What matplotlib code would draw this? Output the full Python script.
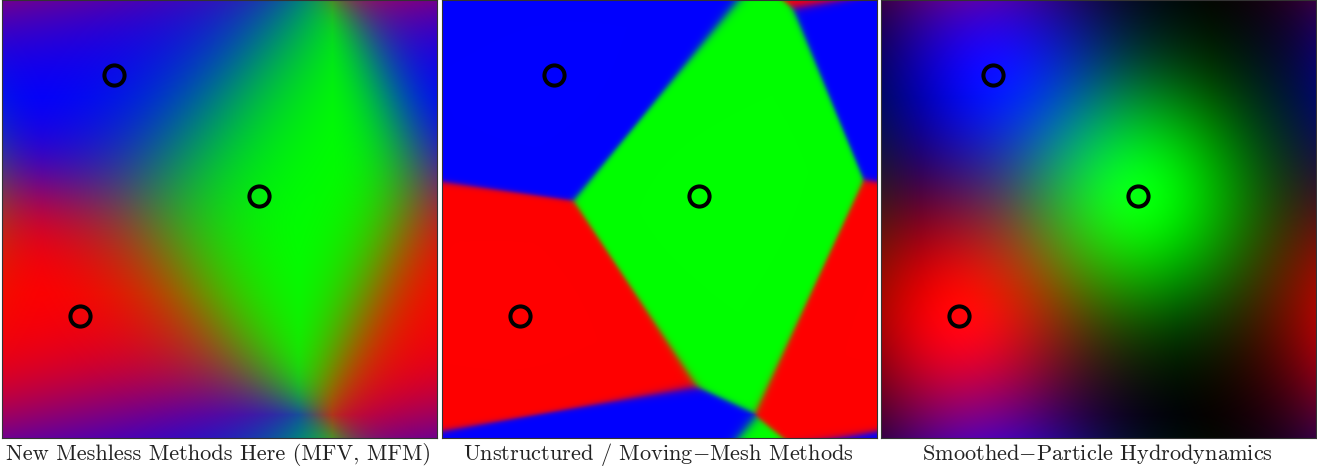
import numpy as np
import matplotlib
matplotlib.use('Agg')
import matplotlib.pyplot as plt

plt.rcParams['mathtext.fontset'] = 'cm'
plt.rcParams['font.family'] = ['cmr10', 'DejaVu Serif']

# particle positions, box units, y measured down from the top
part_x = [0.258, 0.592, 0.180]
part_y = [0.171, 0.447, 0.722]
part_rgb = [[0, 0, 1], [0, 1, 0], [1, 0, 0]]
# kernel radius of each particle in the meshless panel
part_h = [0.63, 0.63, 0.63]
labels = ['New Meshless Methods Here (MFV, MFM)',
          'Unstructured / Moving$-$Mesh Methods',
          'Smoothed$-$Particle Hydrodynamics']

W = 1317.0
H = 472.0
panel_left = [1.5, 441.5, 880.5]
panel_w = 435.5
panel_h = 438
label_x = [218.5, 658.5, 1097.5]
ngrid = 440


def get_dist():
    # distance to the closest periodic image of every particle
    g = (np.arange(ngrid) + 0.5) / ngrid
    xx, yy = np.meshgrid(g, g)
    d = []
    for x0, y0 in zip(part_x, part_y):
        dx = np.abs(xx - x0)
        dy = np.abs(yy - y0)
        dx = np.minimum(dx, 1 - dx)
        dy = np.minimum(dy, 1 - dy)
        d.append(np.sqrt(dx**2 + dy**2))
    return np.array(d)


def kernel(r, h):
    q = r / h
    w = np.where(q < 0.5, 1 - 6*q**2 + 6*q**3, 2*(1 - q)**3)
    return np.where(q < 1, w, 0.0)


def to_image(wt):
    rgb = np.array(part_rgb, dtype=float)
    return np.clip(np.tensordot(wt, rgb, axes=(0, 0)), 0, 1)


dist = get_dist()

# meshless: partition of unity
w1 = np.array([kernel(d, h) for d, h in zip(dist, part_h)]) + 1e-6
img1 = to_image(w1 / w1.sum(axis=0))

# voronoi limit
w2 = np.exp(-(dist - dist.min(axis=0)) / 0.006)
img2 = to_image(w2 / w2.sum(axis=0))

# sph: plain kernel sum, goes dark far from the particles
w3 = np.array([kernel(d, 0.63) for d in dist])
img3 = to_image(w3 * 1.02)

fig = plt.figure(figsize=(W/100, H/100), dpi=100, facecolor='white')
for i, img in enumerate([img1, img2, img3]):
    ax = fig.add_axes([panel_left[i]/W, 1 - panel_h/H, panel_w/W, panel_h/H])
    ax.imshow(img, extent=[0, 1, 1, 0], aspect='auto', interpolation='bilinear')
    ax.plot(part_x, part_y, 'o', ms=14.5, mfc='none', mec='k', mew=2.9)
    ax.set_xlim(0, 1)
    ax.set_ylim(1, 0)
    ax.set_xticks([])
    ax.set_yticks([])
    for s in ax.spines.values():
        s.set_linewidth(0.8)
        s.set_color('#333333')
    fig.text(label_x[i]/W, 1 - 454.5/H, labels[i], ha='center', va='center',
             fontsize=16.1, color='#222222')

fig.savefig('out.png', dpi=100)
